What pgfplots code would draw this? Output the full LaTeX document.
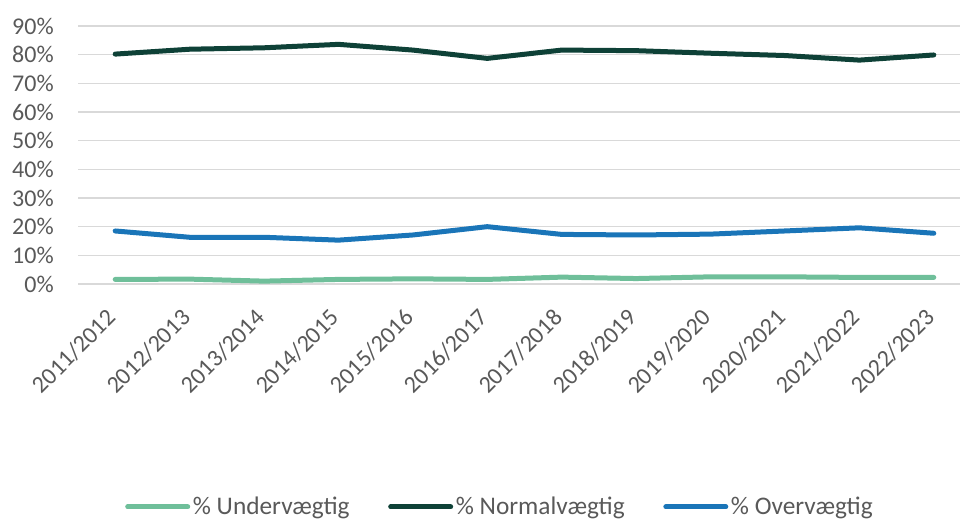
\documentclass[border=0pt]{standalone}
\usepackage{pgfplots}
\pgfplotsset{compat=1.18}
\usepackage{fontspec}
\setmainfont{Carlito}
\definecolor{cUnder}{HTML}{6FBF9A}
\definecolor{cNormal}{HTML}{0E4137}
\definecolor{cOver}{HTML}{1A75B8}
\definecolor{cGrid}{HTML}{D9D9D9}
\definecolor{cText}{HTML}{595959}
\begin{document}
\begin{tikzpicture}
\useasboundingbox (0,0) rectangle (720pt,388.5pt);
\begin{axis}[
  at={(58.5pt,175.5pt)}, anchor=south west,
  scale only axis, width=669.75pt, height=193.5pt,
  xmin=-0.5, xmax=11.5, ymin=0, ymax=90,
  axis line style={draw=none},
  major tick length=0pt,
  ytick={0,10,...,90},
  yticklabels={0\%,10\%,20\%,30\%,40\%,50\%,60\%,70\%,80\%,90\%},
  ymajorgrids, grid style={cGrid, line width=1.1pt},
  xtick={0,...,11},
  xticklabels={2011/2012,2012/2013,2013/2014,2014/2015,2015/2016,2016/2017,2017/2018,2018/2019,2019/2020,2020/2021,2021/2022,2022/2023},
  tick label style={font=\fontsize{18pt}{20pt}\selectfont, text=cText},
  yticklabel style={anchor=east, inner sep=0pt, xshift=-18pt},
  xticklabel style={rotate=45, anchor=north east, inner sep=0pt, xshift=-17.5pt, yshift=-7.1pt},
  clip=false,
  legend columns=-1,
  legend style={draw=none, fill=none, at={(rel axis cs:0.0526,-0.864)}, anchor=west,
    inner sep=0pt, font=\fontsize{19pt}{21pt}\selectfont, text=cText,
    /tikz/every even column/.append style={column sep=29pt},
    nodes={inner sep=0pt}},
  legend image code/.code={\draw[#1, line width=3.75pt] (0pt,0pt) -- (45pt,0pt);},
  legend cell align=left,
]
\addplot[cUnder, line width=3.75pt, line join=round, line cap=round] coordinates {
(0,1.6) (1,1.7) (2,1.0) (3,1.6) (4,1.8) (5,1.6) (6,2.4) (7,1.9) (8,2.5) (9,2.5) (10,2.3) (11,2.3)};
\addlegendentry{\hspace{2pt}\% Undervægtig}
\addplot[cNormal, line width=3.75pt, line join=round, line cap=round] coordinates {
(0,80.2) (1,81.9) (2,82.4) (3,83.6) (4,81.6) (5,78.7) (6,81.6) (7,81.4) (8,80.5) (9,79.7) (10,78.1) (11,79.9)};
\addlegendentry{\hspace{2pt}\% Normalvægtig}
\addplot[cOver, line width=3.75pt, line join=round, line cap=round] coordinates {
(0,18.5) (1,16.3) (2,16.3) (3,15.3) (4,17.1) (5,20.0) (6,17.3) (7,17.1) (8,17.4) (9,18.5) (10,19.6) (11,17.7)};
\addlegendentry{\hspace{2pt}\% Overvægtig}
\end{axis}
\end{tikzpicture}
\end{document}
